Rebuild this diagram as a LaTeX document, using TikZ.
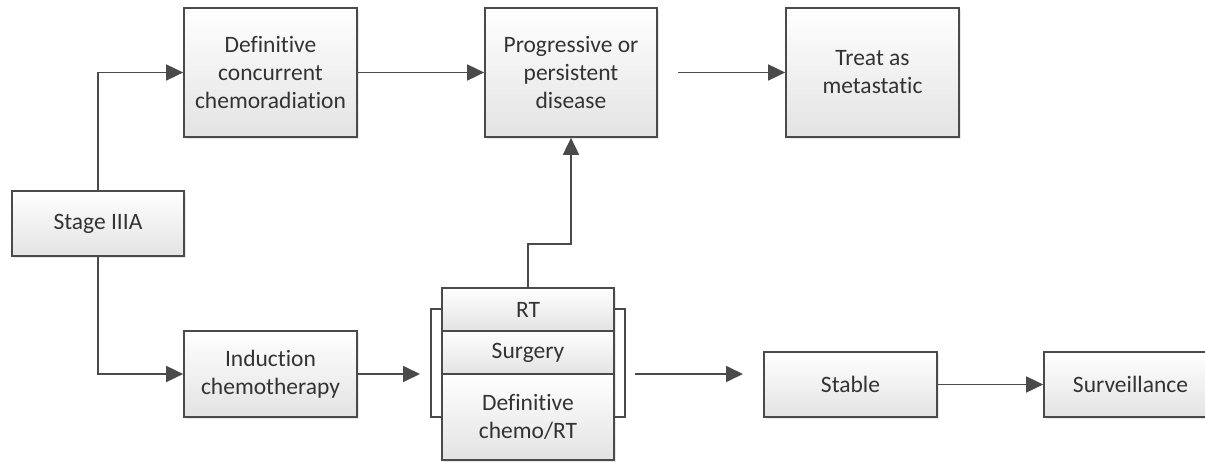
\documentclass[tikz,border=0pt]{standalone}
\usepackage[rgb]{xcolor}
\usepackage{fontspec}
\setmainfont{Carlito}[Ligatures={NoCommon}]
\usepackage{tikz}
\usetikzlibrary{arrows.meta,shadows}

\definecolor{edgegray}{HTML}{4A4A4A}
\definecolor{textgray}{HTML}{333333}

\tikzset{
 box/.style={draw=edgegray, line width=1.7pt, top color=white, bottom color=black!11,
  drop shadow={shadow xshift=2pt, shadow yshift=-2pt, opacity=0.18},
  text=textgray, align=center, inner sep=0pt,
  font=\fontsize{23.5}{28}\selectfont},
 flow/.style={draw=edgegray, line width=1.7pt,
  -{Triangle[length=17pt,width=16pt]}},
 bracketline/.style={draw=edgegray, line width=1.7pt}
}

\begin{document}
\begin{tikzpicture}[x=1pt, y=-1pt]

\useasboundingbox (0,0) rectangle (1205,462);

% first column
\path
(98,223.5) node[box, minimum width=172pt, minimum height=65pt] (stage) {Stage IIIA};

% upper row
\path
(270.5,72.5) node[box, minimum width=173pt, minimum height=129pt] (defconc) {Definitive\\concurrent\\chemoradiation}
(571,72.5) node[box, minimum width=172pt, minimum height=129pt] (progr) {Progressive or\\persistent\\disease}
(872.5,72.5) node[box, minimum width=173pt, minimum height=129pt] (treat) {Treat as\\metastatic};

% lower row
\path
(270.5,374) node[box, minimum width=173pt, minimum height=86pt] (induct) {Induction\\chemotherapy}
(528,309.5) node[box, minimum width=172pt, minimum height=43pt] (rt) {RT}
(528,352.5) node[box, minimum width=172pt, minimum height=43pt] (surg) {Surgery}
(528,417) node[box, minimum width=172pt, minimum height=86pt] (defcrt) {Definitive\\chemo/RT}
(850.5,384.5) node[box, minimum width=173pt, minimum height=65pt] (stable) {Stable}
(1130.5,384.5) node[box, minimum width=173pt, minimum height=65pt] (surv) {Surveillance};

% bracket round the three options
\draw[bracketline] (442,309) -- (431,309) -- (431,417) -- (442,417);
\draw[bracketline] (614,309) -- (625,309) -- (625,417) -- (614,417);

\coordinate (progrout) at (678,72.5);
\coordinate (stackin) at (420,374);
\coordinate (stackout) at (635,374);
\coordinate (stablein) at (743,374);

% connectors
\draw[flow] (stage.north) |- (defconc.west);
\draw[flow] (stage.south) |- (induct.west);
\draw[flow] (defconc.east) -- (progr.west);
\draw[flow] (progrout) -- (treat.west);
\draw[flow] (induct.east) -- (stackin);
\draw[flow] (rt.north) -- ++(0,-43) -| (progr.south);
\draw[flow] (stackout) -- (stablein);
\draw[flow] (stable.east) -- (surv.west);

\end{tikzpicture}
\end{document}
